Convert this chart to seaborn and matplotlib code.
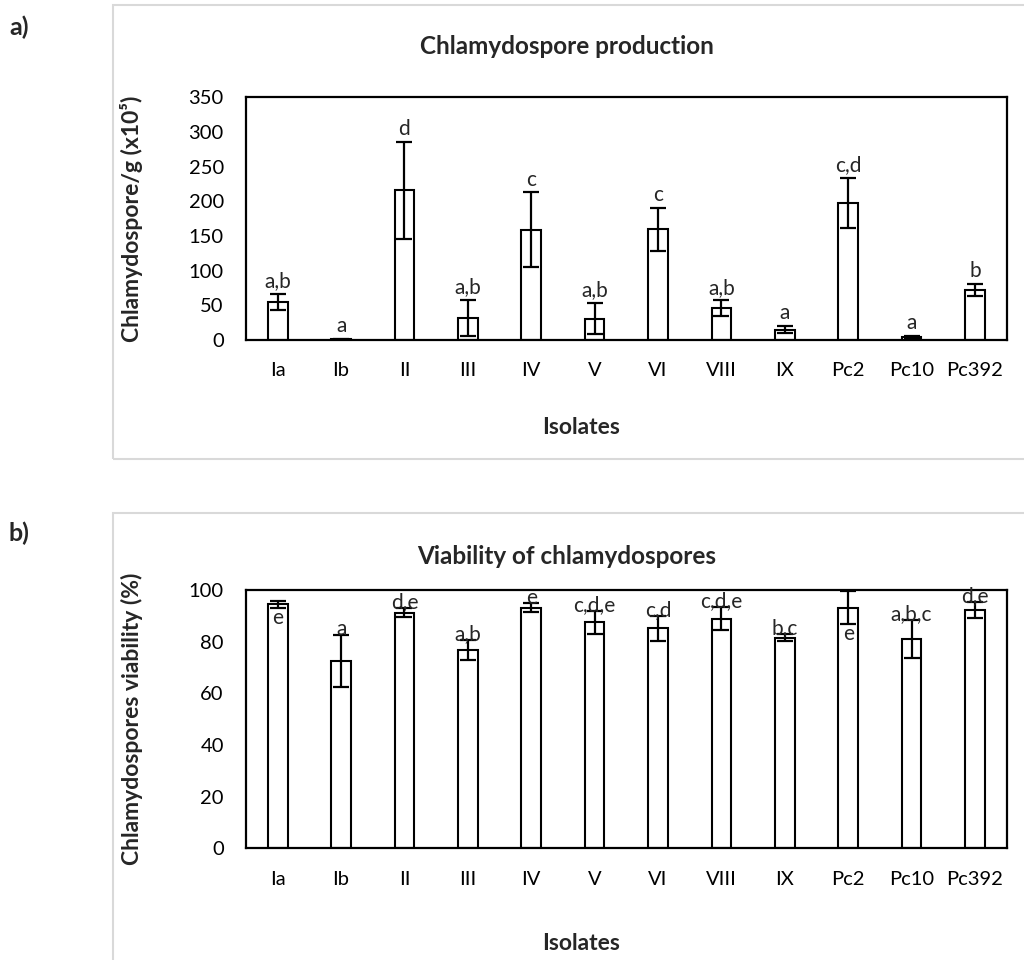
import numpy as np
import pandas as pd
import matplotlib.pyplot as plt
import seaborn as sns
from matplotlib.patches import Rectangle

isolates = ['Ia', 'Ib', 'II', 'III', 'IV', 'V', 'VI', 'VIII', 'IX', 'Pc2', 'Pc10', 'Pc392']

# chlamydospore production (x10^5 per g)
prod_mean = [55, 1, 216, 32, 159, 31, 160, 46, 15, 198, 4, 72]
prod_err = [12, 0.8, 70, 26, 54, 23, 31, 11, 5, 36, 1.5, 9]
prod_letters = ['a,b', 'a', 'd', 'a,b', 'c', 'a,b', 'c', 'a,b', 'a', 'c,d', 'a', 'b']

# chlamydospore viability (%)
via_mean = [94.4, 72.5, 91.2, 76.8, 93.2, 87.5, 85.2, 88.9, 81.5, 93.2, 81.0, 92.3]
via_err = [1.2, 10, 1.7, 3.9, 1.6, 4.5, 4.9, 4.4, 1.4, 6.5, 7.5, 3.0]
via_letters = ['e', 'a', 'd,e', 'a,b', 'e', 'c,d,e', 'c,d', 'c,d,e', 'b,c', 'e', 'a,b,c', 'd,e']
via_below = ['Ia', 'Pc2']  # letters drawn under the bar top

sns.set_theme(style='white')
plt.rcParams['font.family'] = ['Lato', 'DejaVu Sans']

df_prod = pd.DataFrame({'Isolate': isolates, 'Value': prod_mean})
df_via = pd.DataFrame({'Isolate': isolates, 'Value': via_mean})

W, H = 1024, 960
fig = plt.figure(figsize=(W / 100, H / 100), dpi=100)

def fx(px):
    return px / W

def fy(py):
    return 1 - py / H

# grey chart-area frames (Excel style), running off the page on the right
fig.patches.append(Rectangle((fx(113), fy(459)), fx(1000), fy(5) - fy(459),
                             transform=fig.transFigure, fill=False,
                             edgecolor='#d9d9d9', linewidth=1.5))
fig.patches.append(Rectangle((fx(113), fy(1100)), fx(1000), fy(513) - fy(1100),
                             transform=fig.transFigure, fill=False,
                             edgecolor='#d9d9d9', linewidth=1.5))

ax1 = fig.add_axes([fx(246), fy(340), fx(1006.7) - fx(246), fy(97.3) - fy(340)])
ax2 = fig.add_axes([fx(246), fy(848.3), fx(1006.7) - fx(246), fy(590) - fy(848.3)])

panels = [
    (ax1, df_prod, prod_err, 350, 50, 'Chlamydospore/g (x10⁵)'),
    (ax2, df_via, via_err, 100, 20, 'Chlamydospores viability (%)'),
]

for ax, data, err, ymax, step, ylab in panels:
    sns.barplot(data=data, x='Isolate', y='Value', ax=ax, color='white',
                edgecolor='black', linewidth=1.5, width=0.31, errorbar=None,
                saturation=1)
    ax.errorbar(np.arange(len(isolates)), data['Value'], yerr=err, fmt='none',
                ecolor='black', elinewidth=1.6, capsize=5.5, capthick=1.6)
    ax.set_ylim(0, ymax)
    ax.set_yticks(np.arange(0, ymax + 1, step))
    ax.set_xlim(-0.5, len(isolates) - 0.5)
    ax.set_xlabel('')
    ax.set_ylabel(ylab, fontsize=16.5, fontweight='bold')
    ax.yaxis.set_label_coords(-(246 - 143) / (1006.7 - 246), 0.5)
    ax.tick_params(axis='both', length=0, labelsize=14.5, colors='black')
    ax.tick_params(axis='y', pad=16)
    ax.tick_params(axis='x', pad=16)
    for s in ax.spines.values():
        s.set_color('black')
        s.set_linewidth(1.6)

# significance letters
for i, lab in enumerate(prod_letters):
    ax1.annotate(lab, (i, prod_mean[i] + prod_err[i]), xytext=(0, 2),
                 textcoords='offset points', ha='center', va='bottom', fontsize=15)
for i, lab in enumerate(via_letters):
    if isolates[i] in via_below:
        ax2.annotate(lab, (i, via_mean[i] - via_err[i]), xytext=(0, 0),
                     textcoords='offset points', ha='center', va='top', fontsize=15)
    else:
        ax2.annotate(lab, (i, via_mean[i] + via_err[i]), xytext=(0, -3),
                     textcoords='offset points', ha='center', va='bottom', fontsize=15)

# titles, axis names and panel tags
fig.text(fx(567), fy(47), 'Chlamydospore production', ha='center', va='center',
         fontsize=17.5, fontweight='bold')
fig.text(fx(567), fy(556), 'Viability of chlamydospores', ha='center', va='center',
         fontsize=17.5, fontweight='bold')
fig.text(fx(581), fy(427), 'Isolates', ha='center', va='center',
         fontsize=16.5, fontweight='bold')
fig.text(fx(581), fy(943), 'Isolates', ha='center', va='center',
         fontsize=16.5, fontweight='bold')
fig.text(fx(9), fy(27), 'a)', ha='left', va='center', fontsize=18, fontweight='bold')
fig.text(fx(9), fy(533), 'b)', ha='left', va='center', fontsize=18, fontweight='bold')

fig.savefig('out.png', dpi=100, facecolor='white')
